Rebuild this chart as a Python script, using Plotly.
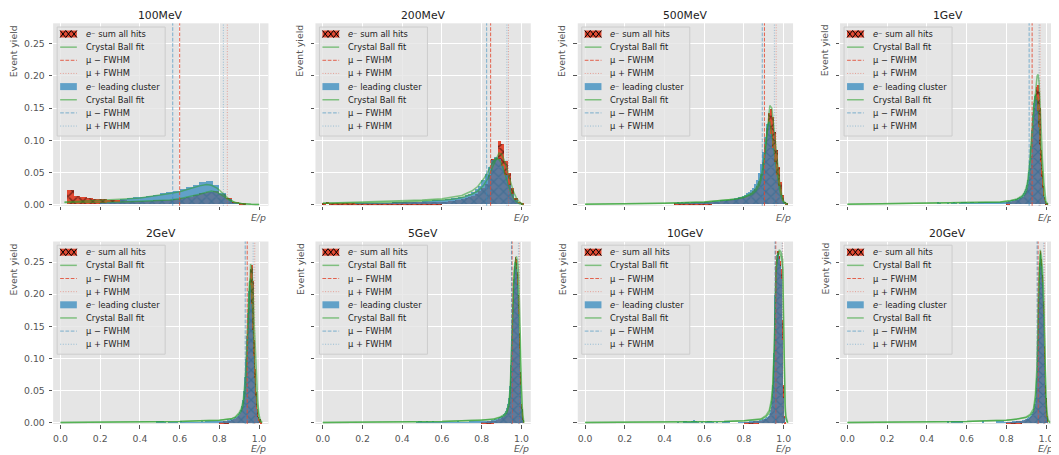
import numpy as np
import plotly.graph_objects as go

# ---------------- data ----------------
panel_titles = ["100MeV", "200MeV", "500MeV", "1GeV", "2GeV", "5GeV", "10GeV", "20GeV"]
x_tick_vals = [0.0, 0.2, 0.4, 0.6, 0.8, 1.0]
x_tick_text = ["0.0", "0.2", "0.4", "0.6", "0.8", "1.0"]
y_tick_vals = [0.0, 0.05, 0.10, 0.15, 0.20, 0.25]
y_tick_text = ["0.00", "0.05", "0.10", "0.15", "0.20", "0.25"]

# 100MeV : bins of width 1/30 starting at 0
red_100MeV = [0.000, 0.022, 0.013, 0.011, 0.009, 0.008, 0.008, 0.007, 0.006, 0.006,
              0.005, 0.005, 0.005, 0.005, 0.006, 0.006, 0.007, 0.008, 0.010, 0.012,
              0.014, 0.017, 0.019, 0.020, 0.016, 0.009, 0.004, 0.001, 0.000, 0.000]
blue_100MeV = [0.000, 0.001, 0.001, 0.001, 0.001, 0.001, 0.002, 0.003, 0.004, 0.008,
               0.0095, 0.011, 0.012, 0.013, 0.015, 0.017, 0.019, 0.021, 0.024, 0.027,
               0.030, 0.035, 0.036, 0.030, 0.018, 0.008, 0.002, 0.0005, 0.0, 0.0]

# 200MeV : bins of width 1/60 starting at 0
red_200MeV = [0.001, 0.004, 0.002, 0.002, 0.002, 0.002, 0.002, 0.002, 0.002, 0.002,
              0.002, 0.002, 0.002, 0.002, 0.002, 0.002, 0.002, 0.002, 0.002, 0.002,
              0.002, 0.003, 0.003, 0.003, 0.003, 0.003, 0.003, 0.003, 0.003, 0.003,
              0.003, 0.003, 0.003, 0.003, 0.003, 0.003, 0.004, 0.004, 0.005, 0.005,
              0.006, 0.007, 0.008, 0.009, 0.011, 0.013, 0.016, 0.020, 0.025, 0.032,
              0.045, 0.070, 0.072, 0.099, 0.094, 0.068, 0.048, 0.025, 0.010, 0.004,
              0.001]
blue_200MeV = [0.001, 0.001, 0.001, 0.001, 0.001, 0.001, 0.001, 0.001, 0.001, 0.001,
               0.002, 0.002, 0.002, 0.002, 0.002, 0.002, 0.002, 0.002, 0.002, 0.002,
               0.002, 0.003, 0.003, 0.003, 0.003, 0.003, 0.003, 0.003, 0.004, 0.004,
               0.005, 0.005, 0.005, 0.006, 0.006, 0.007, 0.007, 0.008, 0.008, 0.009,
               0.010, 0.011, 0.012, 0.014, 0.016, 0.019, 0.023, 0.029, 0.037, 0.047,
               0.058, 0.069, 0.073, 0.070, 0.060, 0.045, 0.030, 0.016, 0.007, 0.002,
               0.0]

# 500MeV : bins of width 0.01 starting at 0.45
red_500MeV = [0.001, 0.002, 0.001, 0.002, 0.001, 0.002, 0.002, 0.001, 0.002, 0.002,
              0.002, 0.002, 0.002, 0.003, 0.002, 0.003, 0.003, 0.003, 0.003, 0.004,
              0.004, 0.004, 0.004, 0.005, 0.005, 0.005, 0.006, 0.006, 0.007, 0.007,
              0.008, 0.008, 0.009, 0.010, 0.011, 0.012, 0.013, 0.015, 0.017, 0.020,
              0.023, 0.028, 0.036, 0.047, 0.065, 0.090, 0.118, 0.142, 0.148, 0.135,
              0.112, 0.085, 0.058, 0.035, 0.014, 0.004, 0.001]
blue_500MeV = [0.002, 0.003, 0.002, 0.003, 0.002, 0.003, 0.003, 0.002, 0.003, 0.003,
               0.003, 0.003, 0.003, 0.004, 0.003, 0.004, 0.004, 0.004, 0.004, 0.005,
               0.005, 0.005, 0.005, 0.006, 0.006, 0.006, 0.007, 0.007, 0.008, 0.008,
               0.009, 0.010, 0.011, 0.012, 0.013, 0.015, 0.017, 0.019, 0.022, 0.026,
               0.031, 0.038, 0.048, 0.062, 0.082, 0.105, 0.125, 0.128, 0.110, 0.088,
               0.066, 0.046, 0.028, 0.014, 0.005, 0.002, 0.0]

# 1GeV..20GeV : leading-cluster tail bins of width 0.01 from 0.45,
#               peak bins of width 0.005 from 0.80 (both histograms)
blue_1GeV_tail = [0.004, 0.002, 0.0, 0.001, 0.001, 0.002, 0.001, 0.002, 0.003, 0.002,
                  0.001, 0.002, 0.003, 0.004, 0.003, 0.002, 0.002, 0.003, 0.003, 0.002,
                  0.002, 0.003, 0.004, 0.004, 0.003, 0.003, 0.003, 0.004, 0.003, 0.004,
                  0.003, 0.004, 0.004, 0.004, 0.004]
red_1GeV_peak = [0.003, 0.003, 0.003, 0.004, 0.004, 0.004, 0.005, 0.005, 0.005, 0.006,
                 0.006, 0.007, 0.007, 0.008, 0.009, 0.010, 0.011, 0.012, 0.014, 0.017,
                 0.020, 0.025, 0.032, 0.042, 0.056, 0.075, 0.098, 0.124, 0.150, 0.170,
                 0.183, 0.186, 0.175, 0.150, 0.118, 0.084, 0.052, 0.028, 0.012, 0.005,
                 0.002, 0.001, 0.0, 0.0]
blue_1GeV_peak = [0.004, 0.004, 0.005, 0.005, 0.005, 0.006, 0.006, 0.007, 0.007, 0.008,
                  0.008, 0.009, 0.010, 0.011, 0.012, 0.013, 0.015, 0.017, 0.020, 0.024,
                  0.030, 0.038, 0.050, 0.068, 0.090, 0.115, 0.140, 0.158, 0.168, 0.170,
                  0.162, 0.145, 0.120, 0.092, 0.065, 0.042, 0.025, 0.013, 0.006, 0.002,
                  0.001, 0.0, 0.0, 0.0]

blue_2GeV_tail = [0.001, 0.001, 0.001, 0.004, 0.004, 0.003, 0.004, 0.002, 0.001, 0.002,
                  0.002, 0.002, 0.002, 0.002, 0.001, 0.003, 0.002, 0.002, 0.002, 0.002,
                  0.002, 0.002, 0.002, 0.002, 0.002, 0.002, 0.003, 0.002, 0.003, 0.003,
                  0.003, 0.003, 0.003, 0.003, 0.003]
red_2GeV_peak = [0.002, 0.002, 0.002, 0.002, 0.003, 0.003, 0.003, 0.003, 0.003, 0.004,
                 0.004, 0.004, 0.005, 0.005, 0.006, 0.006, 0.007, 0.008, 0.009, 0.011,
                 0.013, 0.016, 0.020, 0.026, 0.035, 0.050, 0.072, 0.102, 0.140, 0.180,
                 0.215, 0.240, 0.246, 0.222, 0.180, 0.130, 0.085, 0.048, 0.022, 0.010,
                 0.005, 0.006, 0.001, 0.0]
blue_2GeV_peak = [0.003, 0.003, 0.003, 0.003, 0.004, 0.004, 0.004, 0.004, 0.005, 0.005,
                  0.005, 0.006, 0.006, 0.007, 0.007, 0.008, 0.009, 0.010, 0.012, 0.014,
                  0.017, 0.021, 0.027, 0.036, 0.050, 0.072, 0.100, 0.135, 0.172, 0.205,
                  0.222, 0.215, 0.185, 0.145, 0.105, 0.070, 0.042, 0.022, 0.010, 0.004,
                  0.001, 0.0, 0.0, 0.0]

blue_5GeV_tail = [0.001, 0.001, 0.002, 0.004, 0.003, 0.002, 0.002, 0.003, 0.002, 0.002,
                  0.003, 0.002, 0.002, 0.002, 0.002, 0.002, 0.002, 0.002, 0.002, 0.002,
                  0.002, 0.002, 0.002, 0.003, 0.002, 0.002, 0.002, 0.002, 0.002, 0.003,
                  0.003, 0.003, 0.003, 0.003, 0.003]
red_5GeV_peak = [0.002, 0.002, 0.002, 0.002, 0.002, 0.002, 0.003, 0.003, 0.003, 0.003,
                 0.003, 0.003, 0.004, 0.004, 0.004, 0.005, 0.005, 0.006, 0.006, 0.007,
                 0.008, 0.009, 0.010, 0.011, 0.013, 0.016, 0.020, 0.027, 0.040, 0.065,
                 0.105, 0.160, 0.210, 0.245, 0.258, 0.255, 0.235, 0.200, 0.140, 0.080,
                 0.030, 0.022, 0.005, 0.0]
blue_5GeV_peak = [0.003, 0.003, 0.003, 0.003, 0.003, 0.004, 0.004, 0.004, 0.004, 0.004,
                  0.005, 0.005, 0.005, 0.006, 0.006, 0.007, 0.007, 0.008, 0.009, 0.010,
                  0.011, 0.012, 0.014, 0.016, 0.019, 0.023, 0.030, 0.040, 0.058, 0.090,
                  0.135, 0.185, 0.225, 0.245, 0.250, 0.240, 0.215, 0.170, 0.115, 0.060,
                  0.022, 0.005, 0.001, 0.0]

blue_10GeV_tail = [0.001, 0.002, 0.001, 0.001, 0.003, 0.004, 0.002, 0.002, 0.003, 0.005,
                   0.003, 0.002, 0.001, 0.002, 0.001, 0.002, 0.003, 0.003, 0.003, 0.002,
                   0.001, 0.002, 0.001, 0.001, 0.002, 0.003, 0.003, 0.003, 0.001, 0.001,
                   0.001, 0.001, 0.002, 0.002, 0.002]
red_10GeV_peak = [0.001, 0.001, 0.002, 0.002, 0.002, 0.002, 0.002, 0.002, 0.002, 0.003,
                  0.003, 0.003, 0.003, 0.003, 0.004, 0.004, 0.004, 0.004, 0.005, 0.005,
                  0.006, 0.006, 0.007, 0.008, 0.010, 0.012, 0.016, 0.026, 0.045, 0.090,
                  0.170, 0.230, 0.255, 0.268, 0.266, 0.260, 0.252, 0.240, 0.160, 0.060,
                  0.012, 0.002, 0.0, 0.0]
blue_10GeV_peak = [0.002, 0.002, 0.002, 0.002, 0.002, 0.003, 0.003, 0.003, 0.003, 0.003,
                   0.003, 0.004, 0.004, 0.004, 0.004, 0.005, 0.005, 0.005, 0.006, 0.006,
                   0.007, 0.008, 0.009, 0.010, 0.012, 0.015, 0.020, 0.035, 0.060, 0.110,
                   0.200, 0.245, 0.262, 0.265, 0.262, 0.255, 0.245, 0.225, 0.130, 0.040,
                   0.008, 0.001, 0.0, 0.0]

blue_20GeV_tail = [0.001, 0.001, 0.001, 0.001, 0.001, 0.003, 0.001, 0.003, 0.003, 0.003,
                   0.003, 0.003, 0.003, 0.001, 0.001, 0.001, 0.001, 0.001, 0.001, 0.001,
                   0.001, 0.001, 0.001, 0.003, 0.001, 0.001, 0.001, 0.001, 0.001, 0.001,
                   0.003, 0.003, 0.003, 0.003, 0.002]
red_20GeV_peak = [0.001, 0.001, 0.001, 0.002, 0.002, 0.002, 0.002, 0.002, 0.002, 0.002,
                  0.003, 0.003, 0.003, 0.003, 0.003, 0.004, 0.004, 0.004, 0.005, 0.005,
                  0.006, 0.006, 0.007, 0.008, 0.010, 0.012, 0.015, 0.019, 0.024, 0.030,
                  0.055, 0.110, 0.190, 0.250, 0.268, 0.255, 0.230, 0.190, 0.120, 0.060,
                  0.040, 0.012, 0.0, 0.0]
blue_20GeV_peak = [0.002, 0.002, 0.002, 0.002, 0.002, 0.002, 0.003, 0.003, 0.003, 0.003,
                   0.003, 0.003, 0.004, 0.004, 0.004, 0.004, 0.005, 0.005, 0.005, 0.006,
                   0.007, 0.008, 0.009, 0.010, 0.012, 0.014, 0.017, 0.022, 0.030, 0.040,
                   0.070, 0.130, 0.200, 0.250, 0.262, 0.245, 0.220, 0.170, 0.100, 0.045,
                   0.010, 0.002, 0.0, 0.0]

# Crystal Ball fit curves
fit_x_100MeV = [0.02, 0.1, 0.2, 0.3, 0.4, 0.5, 0.55, 0.6, 0.65, 0.7, 0.735, 0.76, 0.79, 0.82, 0.85, 0.88, 0.92, 0.96, 1.0]
fit_red_100MeV = [0.003, 0.003, 0.004, 0.004, 0.005, 0.006, 0.007, 0.009, 0.012, 0.016, 0.019, 0.021, 0.019, 0.013, 0.007, 0.003, 0.001, 0.0003, 0.0]
fit_blue_100MeV = [0.004, 0.005, 0.006, 0.008, 0.010, 0.014, 0.017, 0.020, 0.025, 0.029, 0.031, 0.030, 0.025, 0.016, 0.008, 0.003, 0.001, 0.0003, 0.0]

fit_x_200MeV = [0.0, 0.1, 0.2, 0.3, 0.4, 0.5, 0.6, 0.65, 0.7, 0.75, 0.78, 0.81, 0.83, 0.85, 0.87, 0.887, 0.9, 0.915, 0.93, 0.945, 0.96, 0.975, 0.99, 1.01]
fit_red_200MeV = [0.002, 0.002, 0.003, 0.003, 0.004, 0.005, 0.007, 0.008, 0.011, 0.016, 0.021, 0.030, 0.040, 0.055, 0.070, 0.080, 0.078, 0.068, 0.052, 0.035, 0.020, 0.010, 0.004, 0.0]
fit_blue_200MeV = [0.002, 0.003, 0.003, 0.004, 0.005, 0.007, 0.009, 0.011, 0.014, 0.021, 0.028, 0.040, 0.050, 0.063, 0.072, 0.070, 0.064, 0.050, 0.035, 0.020, 0.010, 0.004, 0.001, 0.0]

fit_x_500MeV = [0.0, 0.2, 0.4, 0.6, 0.7, 0.75, 0.8, 0.84, 0.86, 0.88, 0.89, 0.9, 0.91, 0.92, 0.93, 0.94, 0.95, 0.96, 0.97, 0.98, 0.99, 1.0, 1.02]
fit_red_500MeV = [0.0005, 0.001, 0.002, 0.004, 0.006, 0.008, 0.011, 0.016, 0.021, 0.032, 0.043, 0.062, 0.090, 0.125, 0.154, 0.150, 0.122, 0.088, 0.058, 0.033, 0.015, 0.005, 0.0]
fit_blue_500MeV = [0.0005, 0.001, 0.002, 0.004, 0.006, 0.008, 0.012, 0.018, 0.025, 0.038, 0.050, 0.070, 0.098, 0.125, 0.130, 0.112, 0.088, 0.062, 0.040, 0.022, 0.009, 0.003, 0.0]

fit_x_1GeV = [0.0, 0.2, 0.4, 0.6, 0.7, 0.77, 0.82, 0.856, 0.88, 0.89, 0.9, 0.907, 0.915, 0.924, 0.932, 0.94, 0.948, 0.955, 0.96, 0.965, 0.97, 0.975, 0.982, 0.99, 0.995, 1.0, 1.01]
fit_red_1GeV = [0.0005, 0.001, 0.002, 0.003, 0.0035, 0.004, 0.006, 0.008, 0.012, 0.015, 0.020, 0.028, 0.045, 0.075, 0.110, 0.150, 0.185, 0.200, 0.2025, 0.190, 0.160, 0.110, 0.070, 0.032, 0.015, 0.005, 0.0]
fit_blue_1GeV = [0.0005, 0.001, 0.002, 0.003, 0.0035, 0.004, 0.006, 0.009, 0.014, 0.018, 0.026, 0.036, 0.058, 0.092, 0.128, 0.160, 0.172, 0.165, 0.150, 0.128, 0.100, 0.075, 0.042, 0.016, 0.007, 0.002, 0.0]

fit_x_2GeV = [0.0, 0.2, 0.4, 0.6, 0.7, 0.8, 0.86, 0.88, 0.9, 0.91, 0.92, 0.925, 0.93, 0.937, 0.945, 0.951, 0.957, 0.963, 0.97, 0.976, 0.982, 0.988, 0.993, 1.0, 1.005, 1.015]
fit_red_2GeV = [0.0003, 0.0005, 0.001, 0.002, 0.003, 0.004, 0.006, 0.008, 0.0135, 0.018, 0.028, 0.036, 0.048, 0.085, 0.160, 0.220, 0.247, 0.240, 0.204, 0.150, 0.100, 0.060, 0.035, 0.012, 0.005, 0.0]
fit_blue_2GeV = [0.0003, 0.0005, 0.001, 0.002, 0.003, 0.004, 0.006, 0.009, 0.016, 0.022, 0.035, 0.048, 0.068, 0.115, 0.180, 0.218, 0.225, 0.200, 0.150, 0.100, 0.060, 0.032, 0.017, 0.006, 0.002, 0.0]

fit_x_5GeV = [0.0, 0.2, 0.4, 0.6, 0.7, 0.8, 0.86, 0.893, 0.915, 0.927, 0.937, 0.944, 0.95, 0.956, 0.961, 0.968, 0.975, 0.981, 0.986, 0.991, 0.995, 1.0, 1.004, 1.012]
fit_red_5GeV = [0.0003, 0.0005, 0.001, 0.002, 0.003, 0.004, 0.005, 0.008, 0.011, 0.0155, 0.026, 0.047, 0.095, 0.165, 0.217, 0.250, 0.259, 0.250, 0.233, 0.185, 0.130, 0.060, 0.026, 0.0]
fit_blue_5GeV = [0.0003, 0.0005, 0.001, 0.002, 0.003, 0.004, 0.006, 0.009, 0.013, 0.019, 0.032, 0.058, 0.115, 0.185, 0.228, 0.250, 0.248, 0.228, 0.195, 0.140, 0.090, 0.035, 0.012, 0.0]

fit_x_10GeV = [0.0, 0.2, 0.4, 0.6, 0.7, 0.8, 0.886, 0.91, 0.927, 0.938, 0.945, 0.953, 0.961, 0.97, 0.978, 0.987, 0.995, 0.999, 1.003, 1.007, 1.011, 1.02]
fit_red_10GeV = [0.0003, 0.0005, 0.001, 0.002, 0.002, 0.003, 0.005, 0.009, 0.015, 0.030, 0.052, 0.114, 0.233, 0.262, 0.269, 0.265, 0.254, 0.170, 0.078, 0.030, 0.010, 0.0]
fit_blue_10GeV = [0.0003, 0.0005, 0.001, 0.002, 0.002, 0.003, 0.006, 0.011, 0.019, 0.036, 0.062, 0.130, 0.240, 0.262, 0.265, 0.258, 0.240, 0.150, 0.060, 0.020, 0.006, 0.0]

fit_x_20GeV = [0.0, 0.2, 0.4, 0.6, 0.7, 0.8, 0.86, 0.9, 0.92, 0.937, 0.946, 0.955, 0.963, 0.967, 0.971, 0.976, 0.982, 0.988, 0.996, 1.0, 1.004, 1.01, 1.02]
fit_red_20GeV = [0.0003, 0.0005, 0.001, 0.002, 0.003, 0.004, 0.006, 0.008, 0.011, 0.018, 0.035, 0.075, 0.204, 0.255, 0.269, 0.262, 0.240, 0.204, 0.075, 0.040, 0.020, 0.005, 0.0]
fit_blue_20GeV = [0.0003, 0.0005, 0.001, 0.002, 0.003, 0.004, 0.006, 0.009, 0.013, 0.022, 0.042, 0.090, 0.215, 0.255, 0.262, 0.250, 0.225, 0.180, 0.070, 0.035, 0.012, 0.003, 0.0]

# mu -/+ FWHM positions per panel
mu_minus_fwhm_red = [0.600, 0.845, 0.903, 0.930, 0.940, 0.953, 0.960, 0.960]
mu_plus_fwhm_red = [0.840, 0.935, 0.962, 0.970, 0.978, 0.990, 0.995, 0.993]
mu_minus_fwhm_blue = [0.565, 0.825, 0.892, 0.915, 0.930, 0.950, 0.956, 0.955]
mu_plus_fwhm_blue = [0.820, 0.927, 0.953, 0.965, 0.970, 0.985, 0.992, 0.988]

legend_labels = ["<i>e</i>⁻ sum all hits", "Crystal Ball fit",
                 "μ − FWHM", "μ + FWHM",
                 "<i>e</i>⁻ leading cluster", "Crystal Ball fit",
                 "μ − FWHM", "μ + FWHM"]

# histogram segments per panel: (first edge, bin width, red values, blue values)
hist_segments = [
    [(0.0, 1 / 30, red_100MeV, blue_100MeV)],
    [(0.0, 1 / 60, red_200MeV, blue_200MeV)],
    [(0.45, 0.01, red_500MeV, blue_500MeV)],
    [(0.45, 0.01, None, blue_1GeV_tail), (0.80, 0.005, red_1GeV_peak, blue_1GeV_peak)],
    [(0.45, 0.01, None, blue_2GeV_tail), (0.80, 0.005, red_2GeV_peak, blue_2GeV_peak)],
    [(0.45, 0.01, None, blue_5GeV_tail), (0.80, 0.005, red_5GeV_peak, blue_5GeV_peak)],
    [(0.45, 0.01, None, blue_10GeV_tail), (0.80, 0.005, red_10GeV_peak, blue_10GeV_peak)],
    [(0.45, 0.01, None, blue_20GeV_tail), (0.80, 0.005, red_20GeV_peak, blue_20GeV_peak)],
]
fits = [
    (fit_x_100MeV, fit_red_100MeV, fit_blue_100MeV),
    (fit_x_200MeV, fit_red_200MeV, fit_blue_200MeV),
    (fit_x_500MeV, fit_red_500MeV, fit_blue_500MeV),
    (fit_x_1GeV, fit_red_1GeV, fit_blue_1GeV),
    (fit_x_2GeV, fit_red_2GeV, fit_blue_2GeV),
    (fit_x_5GeV, fit_red_5GeV, fit_blue_5GeV),
    (fit_x_10GeV, fit_red_10GeV, fit_blue_10GeV),
    (fit_x_20GeV, fit_red_20GeV, fit_blue_20GeV),
]

# ---------------- layout / styling ----------------
# the page body has an 8px margin, so the figure starts at page pixel (8, 8)
OFF = 8
W, H = 1059 - OFF, 455 - OFF
X_RANGE = [-0.037, 1.047]
Y_RANGE = [-0.002, 0.282]
COL_LEFT = [53.15 + 262.3 * i for i in range(4)]   # page pixels
PW = 215.3
ROW_TOP = [23.3, 241.5]
PH = 182.5
FONT = "DejaVu Sans"

RED = "#E24A33"
BLUE_FILL = "rgba(52,138,189,0.75)"
GREEN = "rgba(44,160,44,0.55)"
RED_DASH = "rgba(226,74,51,0.85)"
RED_DOT = "rgba(226,74,51,0.45)"
BLUE_DASH = "rgba(52,138,189,0.6)"
BLUE_DOT = "rgba(52,138,189,0.45)"
DASH = "3.7px,1.6px"
DOT = "1px,1.65px"
GRAY = "#555555"


def fx(p):
    return (p - OFF) / W


def fy(p):
    return 1 - (p - OFF) / H


fig = go.Figure()
shapes = []
annotations = []
axes = {}

for i, title in enumerate(panel_titles):
    r, c = divmod(i, 4)
    n = i + 1
    sfx = "" if n == 1 else str(n)
    xa, ya = "x" + sfx, "y" + sfx
    L, T = COL_LEFT[c], ROW_TOP[r]
    B = T + PH

    axes["xaxis" + sfx] = dict(
        domain=[fx(L), fx(L + PW)], range=X_RANGE, anchor=ya,
        tickmode="array", tickvals=x_tick_vals, ticktext=x_tick_text,
        showticklabels=(r == 1), ticks="outside", ticklen=3.5, tickwidth=1,
        tickcolor=GRAY, tickfont=dict(size=9.3, color=GRAY, family=FONT),
        ticklabelstandoff=2,
        showgrid=True, gridcolor="white", gridwidth=1, zeroline=False,
        showline=False, automargin=False, fixedrange=True)
    axes["yaxis" + sfx] = dict(
        domain=[fy(B), fy(T)], range=Y_RANGE, anchor=xa,
        tickmode="array", tickvals=y_tick_vals, ticktext=y_tick_text,
        showticklabels=(c == 0), ticks="outside", ticklen=3.5, tickwidth=1,
        tickcolor=GRAY, tickfont=dict(size=9.3, color=GRAY, family=FONT),
        ticklabelstandoff=2,
        showgrid=True, gridcolor="white", gridwidth=1, zeroline=False,
        showline=False, automargin=False, fixedrange=True)

    # histograms: all-hits (red, hatched) then leading cluster (blue)
    for start, bw, rv, bv in hist_segments[i]:
        if rv is None:
            continue
        centers = start + bw * (np.arange(len(rv)) + 0.5)
        fig.add_trace(go.Bar(
            x=centers, y=rv, width=bw, xaxis=xa, yaxis=ya,
            marker=dict(color=RED, line=dict(width=0),
                        pattern=dict(shape="x", fgcolor="black", size=7,
                                     solidity=0.32, fillmode="overlay")),
            showlegend=False, hoverinfo="skip"))
    for start, bw, rv, bv in hist_segments[i]:
        centers = start + bw * (np.arange(len(bv)) + 0.5)
        fig.add_trace(go.Bar(
            x=centers, y=bv, width=bw, xaxis=xa, yaxis=ya,
            marker=dict(color=BLUE_FILL, line=dict(width=0)),
            showlegend=False, hoverinfo="skip"))
    fxs, fred, fblue = fits[i]
    for fv in (fred, fblue):
        fig.add_trace(go.Scatter(
            x=fxs, y=fv, mode="lines", xaxis=xa, yaxis=ya,
            line=dict(color=GREEN, width=1.5), showlegend=False,
            hoverinfo="skip"))

    # mu -/+ FWHM lines
    for val, col, dsh in ((mu_minus_fwhm_red[i], RED_DASH, DASH),
                          (mu_plus_fwhm_red[i], RED_DOT, DOT),
                          (mu_minus_fwhm_blue[i], BLUE_DASH, DASH),
                          (mu_plus_fwhm_blue[i], BLUE_DOT, DOT)):
        shapes.append(dict(type="line", xref=xa, yref=ya + " domain",
                           x0=val, x1=val, y0=0, y1=1, layer="above",
                           line=dict(color=col, width=1, dash=dsh)))

    # title and axis labels
    annotations.append(dict(xref="paper", yref="paper", x=fx(L + PW / 2), y=fy(T - 8.0),
                            text=title, showarrow=False, xanchor="center", yanchor="middle",
                            borderpad=0,
                            font=dict(size=10.8, color="#222222", family=FONT)))
    ylx = L - (39.7 if c == 0 else 15.5)
    annotations.append(dict(xref="paper", yref="paper", x=fx(ylx), y=fy(T - 0.5),
                            text="Event yield", textangle=-90, showarrow=False,
                            xanchor="center", yanchor="top",
                            font=dict(size=9.3, color=GRAY, family=FONT)))
    annotations.append(dict(xref="paper", yref="paper", x=fx(L + PW),
                            y=fy(B + (11.7 if r == 0 else 24.2)),
                            text="<i>E/p</i>", showarrow=False, xanchor="right", yanchor="middle",
                            font=dict(size=9.3, color=GRAY, family=FONT)))

    # legend box
    shapes.append(dict(type="rect", xref="paper", yref="paper", layer="above",
                       x0=fx(L + 4), x1=fx(L + 112), y0=fy(T + 112.7), y1=fy(T + 3.7),
                       fillcolor="rgba(229,229,229,0.8)", line=dict(color="#CCCCCC", width=1)))
    sx0, sx1 = L + 7, L + 23.7
    for j, lab in enumerate(legend_labels):
        yc = T + 10.7 + 13.15 * j
        if j in (0, 4):
            shapes.append(dict(type="rect", xref="paper", yref="paper", layer="above",
                               x0=fx(sx0), x1=fx(sx1), y0=fy(yc + 3.5), y1=fy(yc - 3.5),
                               fillcolor=RED if j == 0 else BLUE_FILL, line=dict(width=0)))
            if j == 0:
                w = (sx1 - sx0) / 3
                pts_a = [(sx0 + k * w, yc - 3.5 if k % 2 == 0 else yc + 3.5) for k in range(4)]
                pts_b = [(sx0 + k * w, yc + 3.5 if k % 2 == 0 else yc - 3.5) for k in range(4)]
                path = ""
                for pts in (pts_a, pts_b):
                    path += "M" + " L".join(f"{fx(a):.5f},{fy(b):.5f}" for a, b in pts) + " "
                shapes.append(dict(type="path", xref="paper", yref="paper", layer="above",
                                   path=path.strip(), line=dict(color="black", width=1)))
        else:
            if j in (1, 5):
                col, dsh, lw = GREEN, "solid", 1.5
            elif j == 2:
                col, dsh, lw = RED_DASH, DASH, 1
            elif j == 3:
                col, dsh, lw = RED_DOT, DOT, 1
            elif j == 6:
                col, dsh, lw = BLUE_DASH, DASH, 1
            else:
                col, dsh, lw = BLUE_DOT, DOT, 1
            shapes.append(dict(type="line", xref="paper", yref="paper", layer="above",
                               x0=fx(sx0), x1=fx(sx1), y0=fy(yc), y1=fy(yc),
                               line=dict(color=col, width=lw, dash=dsh)))
        annotations.append(dict(xref="paper", yref="paper", x=fx(L + 30.7), y=fy(yc),
                                text=lab, showarrow=False, xanchor="left", yanchor="middle",
                                font=dict(size=8.3, color="#222222", family=FONT)))

fig.update_layout(
    width=W, height=H, margin=dict(l=0, r=0, t=0, b=0),
    paper_bgcolor="white", plot_bgcolor="#E5E5E5",
    barmode="overlay", bargap=0, showlegend=False,
    font=dict(family=FONT, size=9.3, color=GRAY),
    shapes=shapes, annotations=annotations, **axes)

fig.write_html("out.html")
